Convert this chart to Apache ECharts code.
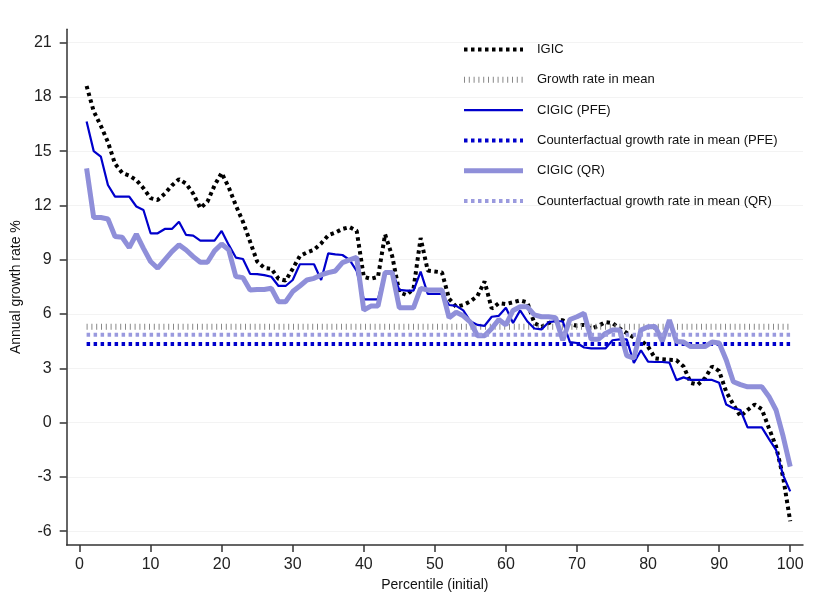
<!DOCTYPE html>
<html>
<head>
<meta charset="utf-8">
<script src="https://cdn.jsdelivr.net/npm/echarts@6/dist/echarts.min.js"></script>
<style>
html,body{margin:0;padding:0;background:#fff;}
#chart{width:823px;height:612px;}
</style>
</head>
<body>
<div id="chart"></div>
<script>
const percentiles = [1,2,3,4,5,6,7,8,9,10,11,12,13,14,15,16,17,18,19,20,21,22,23,24,25,26,27,28,29,30,31,32,33,34,35,36,37,38,39,40,41,42,43,44,45,46,47,48,49,50,51,52,53,54,55,56,57,58,59,60,61,62,63,64,65,66,67,68,69,70,71,72,73,74,75,76,77,78,79,80,81,82,83,84,85,86,87,88,89,90,91,92,93,94,95,96,97,98,99,100];

const igic = [18.6,17.2,16.4,15.5,14.3,13.8,13.65,13.4,12.95,12.4,12.3,12.65,13.1,13.45,13.2,12.65,11.85,12.2,13.1,13.8,
13.0,12.0,11.1,10.0,8.9,8.55,8.5,7.95,7.85,8.5,9.2,9.4,9.55,9.9,10.35,10.5,10.7,10.8,10.6,8.05,
7.95,8.05,10.4,9.2,7.2,7.05,7.4,10.2,8.4,8.35,8.3,6.85,6.4,6.5,6.7,7.0,7.8,6.3,6.6,6.55,
6.65,6.75,6.65,5.5,5.3,5.5,5.65,5.65,5.45,5.35,5.4,5.2,5.35,5.55,5.5,5.2,4.95,4.7,4.55,4.2,
3.55,3.5,3.47,3.45,3.1,2.2,2.1,2.45,3.1,2.85,1.7,1.0,0.35,0.7,1.0,0.75,-0.3,-1.3,-3.0,-5.45];

const cigicPFE = [16.63,15.0,14.7,13.13,12.49,12.49,12.49,11.94,11.75,10.46,10.46,10.7,10.7,11.1,10.37,10.33,10.06,10.06,10.06,10.59,
9.82,9.12,9.04,8.22,8.2,8.15,8.06,7.55,7.55,7.88,8.75,8.75,8.75,7.88,9.35,9.3,9.26,8.99,8.38,6.81,
6.81,6.81,8.34,8.34,7.33,7.29,7.29,8.34,7.11,7.11,7.11,6.5,6.45,6.2,5.6,5.4,5.35,5.85,5.9,6.35,
5.5,6.2,5.6,5.2,5.15,5.55,5.6,5.6,4.45,4.4,4.15,4.1,4.1,4.1,4.55,4.6,4.6,3.3,4.0,3.37,
3.35,3.35,3.32,2.35,2.5,2.36,2.36,2.36,2.36,2.2,1.0,0.8,0.7,-0.26,-0.26,-0.26,-0.9,-1.5,-2.9,-3.8];

const cigicQR = [14.05,11.33,11.33,11.25,10.28,10.24,9.67,10.41,9.63,8.9,8.53,8.99,9.45,9.82,9.54,9.17,8.86,8.86,9.49,9.87,
9.54,8.07,8.01,7.33,7.36,7.36,7.42,6.68,6.68,7.24,7.55,7.88,7.97,8.16,8.29,8.38,8.84,8.99,9.13,6.22,
6.44,6.44,8.29,8.29,6.35,6.35,6.35,7.42,7.33,7.33,7.33,5.8,6.1,5.9,5.55,4.8,4.8,5.2,5.7,5.4,
6.2,6.4,6.4,5.95,5.85,5.85,5.8,4.55,5.7,5.85,6.04,4.6,4.6,4.93,5.12,5.12,3.7,3.56,5.12,5.3,
5.31,4.5,5.67,4.48,4.45,4.2,4.2,4.2,4.45,4.4,3.46,2.26,2.1,1.98,1.98,1.98,1.45,0.7,-0.75,-2.43];

const growthMean = 5.3;
const cfMeanPFE = 4.35;
const cfMeanQR = 4.85;

const xTicks = [0,10,20,30,40,50,60,70,80,90,100];
const yTicks = [-6,-3,0,3,6,9,12,15,18,21];

const seriesNames = ['IGIC','Growth rate in mean','CIGIC (PFE)','Counterfactual growth rate in mean (PFE)','CIGIC (QR)','Counterfactual growth rate in mean (QR)'];

function pairs(vals){ return percentiles.map((p,i)=>[p, vals[i]]); }
function flat(v){ return [[percentiles[0], v],[percentiles[percentiles.length-1], v]]; }

const chart = echarts.init(document.getElementById('chart'), null, {renderer:'canvas'});
const FONT = 'Arial, "Liberation Sans", sans-serif';
const option = {
  animation:false,
  backgroundColor:'#fff',
  grid:{left:66.7, right:20, top:29.3, bottom:67, containLabel:false},
  legend:{
    orient:'vertical', left:456, top:38,
    itemWidth:59, itemHeight:14, itemGap:17.3,
    itemStyle:{opacity:0},
    lineStyle:{width:'inherit'},
    textStyle:{fontFamily:FONT, fontSize:13, color:'#111', padding:[0,0,0,9]},
    data:seriesNames
  },
  xAxis:{
    type:'value', min:-1.8, max:101.8,
    name:'Percentile (initial)', nameLocation:'middle', nameGap:20,
    nameTextStyle:{fontFamily:FONT, fontSize:14, color:'#111'},
    axisLine:{onZero:false, lineStyle:{color:'#333', width:1.5}},
    axisTick:{show:true, inside:false, length:7, customValues:xTicks, lineStyle:{color:'#333', width:1.5}},
    axisLabel:{customValues:xTicks, fontFamily:FONT, fontSize:16, color:'#222', margin:12},
    splitLine:{show:false}
  },
  yAxis:{
    type:'value', min:-6.76, max:21.73,
    name:'Annual growth rate %', nameLocation:'middle', nameGap:43,
    nameTextStyle:{fontFamily:FONT, fontSize:14, color:'#111'},
    axisLine:{show:true, onZero:false, lineStyle:{color:'#333', width:1.5}},
    axisTick:{show:true, inside:false, length:7, customValues:yTicks, lineStyle:{color:'#333', width:1.5}},
    axisLabel:{customValues:yTicks, fontFamily:FONT, fontSize:16, color:'#222', margin:15},
    splitLine:{show:true, lineStyle:{color:'#f3f3f3', width:1}}
  },
  series:[
    {name:seriesNames[0], type:'line', data:pairs(igic), symbol:'none', z:2,
     itemStyle:{color:'#000'}, lineStyle:{color:'#000', width:4, type:[3.5,3.5]}},
    {name:seriesNames[1], type:'line', data:flat(growthMean), symbol:'none', z:3,
     itemStyle:{color:'#888'}, lineStyle:{color:'#888', width:6, type:[1,3.8]}},
    {name:seriesNames[2], type:'line', data:pairs(cigicPFE), symbol:'none', z:4,
     itemStyle:{color:'#0000cc'}, lineStyle:{color:'#0000cc', width:2.2}},
    {name:seriesNames[3], type:'line', data:flat(cfMeanPFE), symbol:'none', z:5,
     itemStyle:{color:'#0000cc'}, lineStyle:{color:'#0000cc', width:4, type:[3.5,3.5]}},
    {name:seriesNames[4], type:'line', data:pairs(cigicQR), symbol:'none', z:6,
     itemStyle:{color:'#8f8fd9'}, lineStyle:{color:'#8f8fd9', width:5}},
    {name:seriesNames[5], type:'line', data:flat(cfMeanQR), symbol:'none', z:7,
     itemStyle:{color:'#9a9ade'}, lineStyle:{color:'#9a9ade', width:4, type:[3.5,3.5]}}
  ]
};
chart.setOption(option);
</script>
</body>
</html>
